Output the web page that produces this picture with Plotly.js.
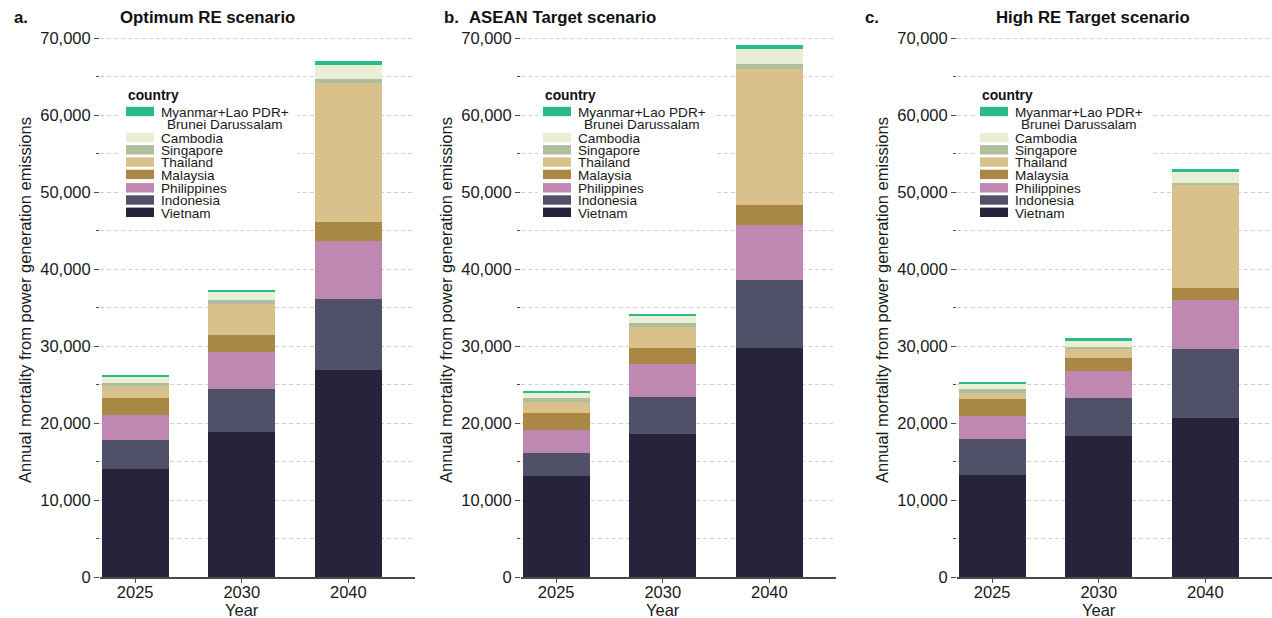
<!DOCTYPE html>
<html><head><meta charset="utf-8">
<script src="https://cdn.plot.ly/plotly-3.0.1.min.js"></script>
<style>html,body{margin:0;padding:0;background:#fff}#chart{width:1272px;height:618px}</style>
</head><body><div id="chart"></div>
<script>
// ---- DATA ----
const years = ['2025', '2030', '2040'];
// stacking order, bottom to top
const countries = ['Vietnam', 'Indonesia', 'Philippines', 'Malaysia', 'Thailand', 'Singapore', 'Cambodia', 'Myanmar+Lao PDR+Brunei Darussalam'];
const colors = ['#27233A', '#505168', '#BE88B0', '#A98745', '#D9C18C', '#AEBFA0', '#E8EFD4', '#2BBA8A'];
const scenarioLetters = ['a.', 'b.', 'c.'];
const scenarioTitles = ['Optimum RE scenario', 'ASEAN Target scenario', 'High RE Target scenario'];
const legendTitle = 'country';
const legendLabels = ['Myanmar+Lao PDR+', 'Cambodia', 'Singapore', 'Thailand', 'Malaysia', 'Philippines', 'Indonesia', 'Vietnam'];
const legendLabelLine2 = 'Brunei Darussalam';
const yTitle = 'Annual mortality from power generation emissions';
const xTitle = 'Year';

// rows follow `countries`, columns follow `years`
const optimumRE = [
  [14000, 18870, 26880],
  [3800, 5550, 9220],
  [3330, 4840, 7580],
  [2160, 2170, 2460],
  [1510, 4100, 18010],
  [430, 520, 530],
  [840, 960, 1810],
  [160, 260, 560]
];
const aseanTarget = [
  [13160, 18610, 29740],
  [3020, 4770, 8870],
  [2990, 4280, 7140],
  [2210, 2120, 2600],
  [1420, 2730, 17660],
  [490, 480, 610],
  [650, 950, 1950],
  [260, 290, 520]
];
const highRETarget = [
  [13220, 18380, 20750],
  [4730, 4840, 8960],
  [2990, 3560, 6240],
  [2200, 1640, 1560],
  [820, 1170, 13430],
  [520, 380, 330],
  [650, 780, 1390],
  [170, 320, 390]
];
const scenarios = [optimumRE, aseanTarget, highRETarget];

// ---- LAYOUT ----
const W = 1272, H = 618;
const panelLeft = [100, 521, 957];
const panelWidth = 315;
const letterX = [12, 441.7, 863];
const titleX = [118, 467, 994];
const legendLeft = [126, 543, 980];
const px = v => v / W;
const py = v => 1 - v / H;
const FONT = 'Liberation Sans, Arial, Helvetica, sans-serif';
const textColor = '#1a1a1a';
const gridCol = '#d0d0d0';
const gridDash = '4px,3px';

const traces = [];
const layout = {
  width: W, height: H,
  margin: {l: 0, r: 0, t: 0, b: 0},
  paper_bgcolor: '#fff', plot_bgcolor: '#fff',
  barmode: 'stack',
  showlegend: false,
  font: {family: FONT, color: textColor},
  annotations: [], shapes: []
};

scenarios.forEach((data, p) => {
  const sx = p === 0 ? '' : String(p + 1);
  data.forEach((vals, i) => {
    traces.push({
      type: 'bar', x: years, y: vals, name: countries[i],
      marker: {color: colors[i], line: {width: 0}},
      width: 0.631,
      xaxis: 'x' + sx, yaxis: 'y' + sx,
      showlegend: false, hoverinfo: 'skip'
    });
  });
  layout['xaxis' + sx] = {
    domain: [px(panelLeft[p]), px(panelLeft[p] + panelWidth)],
    anchor: 'y' + sx, type: 'category', range: [-0.33, 2.625],
    showline: true, linecolor: '#4a4a4a', linewidth: 1.3,
    ticks: 'outside', ticklen: 4, tickcolor: '#4a4a4a', tickwidth: 1,
    ticklabelstandoff: -4,
    tickfont: {size: 16.5, color: textColor, family: FONT},
    showgrid: false, zeroline: false, fixedrange: true
  };
  layout['yaxis' + sx] = {
    domain: [py(577.3), py(35.2)],
    anchor: 'x' + sx, range: [0, 70400],
    tick0: 0, dtick: 10000, tickformat: ',d',
    ticks: 'outside', ticklen: 5, tickcolor: '#4a4a4a', tickwidth: 1,
    tickfont: {size: 16.5, color: textColor, family: FONT},
    showgrid: true, gridcolor: gridCol, gridwidth: 1, griddash: gridDash,
    minor: {tick0: 0, dtick: 5000, ticks: 'outside', ticklen: 3, tickcolor: '#4a4a4a',
            showgrid: true, gridcolor: gridCol, gridwidth: 1, griddash: gridDash},
    showline: false, zeroline: false, fixedrange: true
  };
  // panel letter + title
  layout.annotations.push({
    xref: 'paper', yref: 'paper', x: px(letterX[p]), y: py(17.5), xanchor: 'left', yanchor: 'middle',
    text: '<b>' + scenarioLetters[p] + '</b>', showarrow: false, font: {size: 16.8, color: '#111'}
  });
  layout.annotations.push({
    xref: 'paper', yref: 'paper', x: px(titleX[p]), y: py(17.5), xanchor: 'left', yanchor: 'middle',
    text: '<b>' + scenarioTitles[p] + '</b>', showarrow: false, font: {size: 16.8, color: '#111'}
  });
  // axis titles
  layout.annotations.push({
    xref: 'paper', yref: 'paper', x: px(panelLeft[p] - 75), y: py(300), xanchor: 'center', yanchor: 'middle',
    text: yTitle, textangle: -90, showarrow: false, font: {size: 16.5, color: textColor}
  });
  layout.annotations.push({
    xref: 'x' + sx, yref: 'paper', x: 1, y: py(610), xanchor: 'center', yanchor: 'middle',
    text: xTitle, showarrow: false, font: {size: 16.5, color: textColor}
  });
  // legend
  const L = legendLeft[p];
  layout.shapes.push({type: 'rect', xref: 'paper', yref: 'paper', layer: 'above',
    x0: px(L - 5), x1: px(L + 171), y0: py(222), y1: py(84), fillcolor: '#fff', line: {width: 0}});
  layout.annotations.push({
    xref: 'paper', yref: 'paper', x: px(L), y: py(95), xanchor: 'left', yanchor: 'middle',
    text: '<b>' + legendTitle + '</b>', showarrow: false, font: {size: 13.8, color: '#111'}
  });
  const swatchY = [111.5, 137.5, 149.8, 162, 174.4, 187.8, 200, 212.3];
  legendLabels.forEach((lab, k) => {
    const ci = countries.length - 1 - k;
    layout.shapes.push({type: 'rect', xref: 'paper', yref: 'paper', layer: 'above',
      x0: px(L), x1: px(L + 28), y0: py(swatchY[k] + 4.7), y1: py(swatchY[k] - 4.7),
      fillcolor: colors[ci], line: {width: 0}});
    if (k === 0) {
      layout.annotations.push({xref: 'paper', yref: 'paper', x: px(L + 99), y: py(112), xanchor: 'center', yanchor: 'middle',
        text: lab, showarrow: false, font: {size: 13.6, color: textColor}});
      layout.annotations.push({xref: 'paper', yref: 'paper', x: px(L + 99), y: py(124.3), xanchor: 'center', yanchor: 'middle',
        text: legendLabelLine2, showarrow: false, font: {size: 13.6, color: textColor}});
    } else {
      layout.annotations.push({xref: 'paper', yref: 'paper', x: px(L + 33), y: py(swatchY[k] + 0.8), xanchor: 'left', yanchor: 'middle',
        text: lab, showarrow: false, font: {size: 13.6, color: textColor}});
    }
  });
});

Plotly.newPlot('chart', traces, layout, {displayModeBar: false, staticPlot: true});
</script>
</body></html>
